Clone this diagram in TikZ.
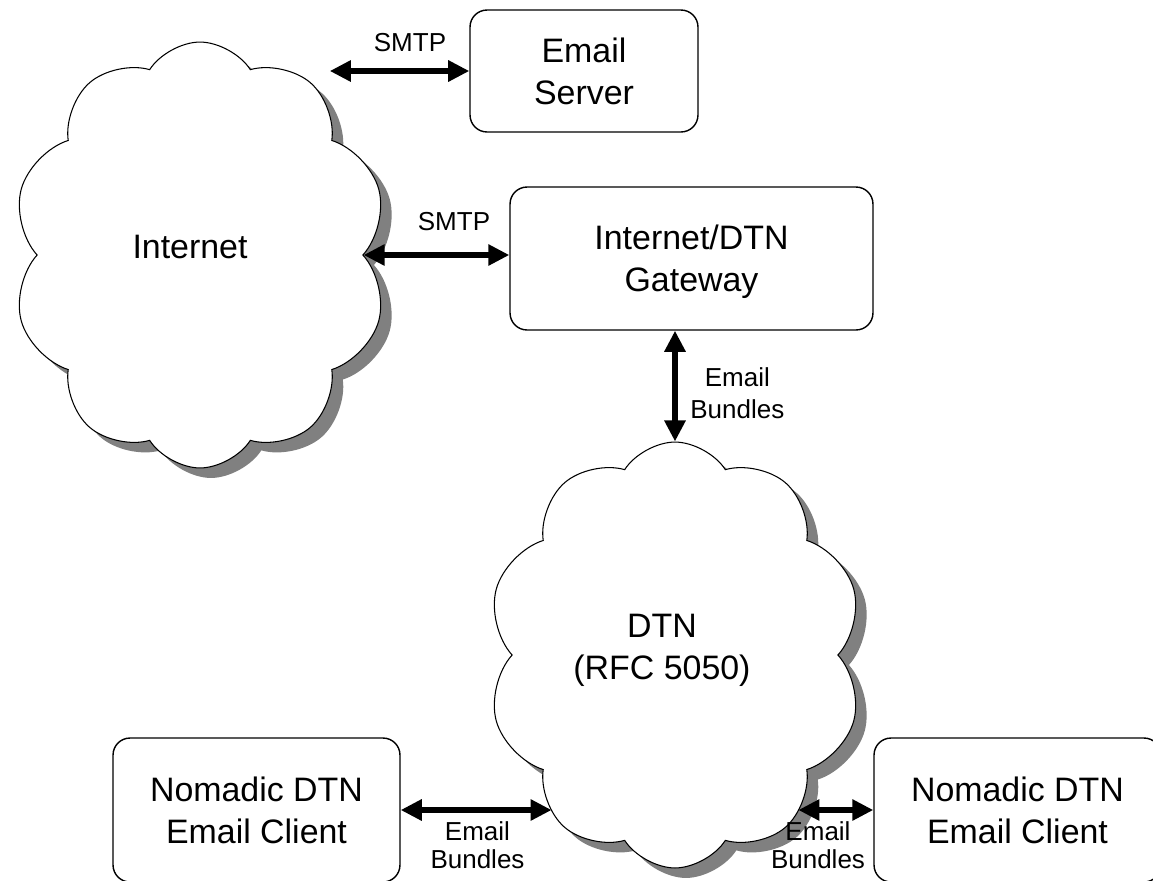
\documentclass[tikz,border=0pt]{standalone}
\usepackage{fontspec}
\setmainfont{Liberation Sans}
\usetikzlibrary{shapes.symbols,shadows,arrows.meta}

\newcommand{\boxfont}{\fontsize{19.3}{23.9}\selectfont}
\newcommand{\lblfont}{\fontsize{14.8}{16.2}\selectfont}

\tikzset{
  box/.style={draw, line width=0.8pt, rounded corners=0.34cm, fill=white,
    align=center, font=\boxfont, text depth=0pt, inner sep=0pt},
  net/.style={cloud, cloud puffs=10, cloud puff arc=115, cloud ignores aspect,
    draw, line width=0.6pt, fill=white, inner sep=0pt,
    minimum width=7.52cm, minimum height=8.52cm,
    drop shadow={shadow xshift=0.22cm, shadow yshift=-0.2cm, fill=black!50, opacity=1}},
  link/.style={line width=3.6pt,
    {Triangle[length=12pt,width=11.5pt]}-{Triangle[length=12pt,width=11.5pt]}},
  lbl/.style={font=\lblfont, align=center, inner sep=0pt}
}

\begin{document}
\begin{tikzpicture}[x=0.02cm, y=-0.02cm]
\useasboundingbox (0,0) rectangle (1153,880);

% the two networks
\node[net] (inet) at (200,255) {};
\node[net] (dtn) at (675,655) {};
\node[font=\boxfont] (inettxt) at (190,247) {Internet};
\node[font=\boxfont, align=center] (dtntxt) at (662,650) {DTN\\(RFC 5050)};

% hosts
\node[box, minimum width=4.56cm, minimum height=2.44cm] (es) at (584,71) {Email\\Server};
\node[box, minimum width=7.26cm, minimum height=2.86cm] (gw) at (691.5,258.5) {Internet/DTN\\Gateway};
\node[box, minimum width=5.74cm, minimum height=2.88cm] (nl) at (256.5,810) {Nomadic DTN\\Email Client};
\node[box, minimum width=5.74cm, minimum height=2.88cm] (nr) at (1017.5,810) {Nomadic DTN\\Email Client};

% links
\draw[link] (es.west -| inet.48) -- (es.west);
\draw[link] (inet.east) -- (inet.east -| gw.west);
\draw[link] (gw.south -| dtn.north) -- (dtn.north);
\draw[link] (nl.east) -- (nl.east -| dtn.232);
\draw[link] (nr.west -| dtn.308) -- (nr.west);

% link labels
\node[lbl] (smtpa) at (410,43) {SMTP};
\node[lbl] (smtpb) at (454,222) {SMTP};
\node[lbl, anchor=west] (bgw) at (690,393) {Email\\[2pt]Bundles};
\node[lbl] (bnl) at (477.5,845) {Email\\Bundles};
\node[lbl] (bnr) at (818,845) {Email\\Bundles};
\end{tikzpicture}
\end{document}
